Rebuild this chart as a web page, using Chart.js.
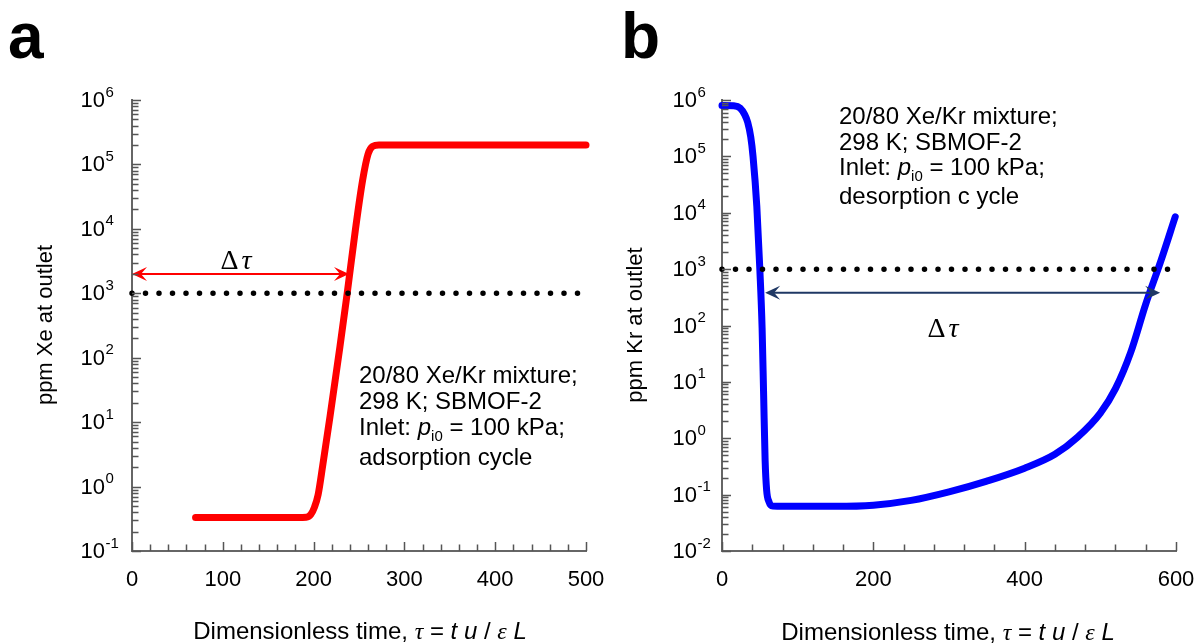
<!DOCTYPE html>
<html>
<head>
<meta charset="utf-8">
<script src="https://cdn.jsdelivr.net/npm/chart.js@4.4.1/dist/chart.umd.min.js"></script>
<style>
  body { margin: 0; background: #fff; width: 1197px; height: 643px; position: relative; overflow: hidden;
         font-family: Arial, "Liberation Sans", sans-serif; color: #000; }
  canvas { position: absolute; top: 0; }
  #chartA { left: 0; }
  #chartB { left: 600px; }
  .t { position: absolute; white-space: nowrap; line-height: 1; }
  .panel { font-weight: bold; font-size: 64px; }
  .note { font-size: 24px; }
  .note sub { font-size: 15px; vertical-align: -6px; font-style: normal; }
  .xt { font-size: 24px; width: 500px; text-align: center; }
  .yt { font-size: 22px; width: 300px; text-align: center; transform: rotate(-90deg); }
  .sym { font-family: "Liberation Serif", "Times New Roman", serif; font-style: italic; }
  .dt { font-family: "Liberation Serif", "Times New Roman", serif; font-size: 28px; width: 100px; text-align: center; }
  .dt i { margin-left: 3px; }
</style>
</head>
<body>
<canvas id="chartA" width="620" height="643"></canvas>
<canvas id="chartB" width="597" height="643"></canvas>

<div class="t panel" style="left:8px; top:4px;">a</div>
<div class="t panel" style="left:621px; top:4px;">b</div>

<div class="t yt" style="left:-105px; top:314px;">ppm Xe at outlet</div>
<div class="t yt" style="left:485px; top:314px;">ppm Kr at outlet</div>

<div class="t xt" style="left:110px; top:619px;">Dimensionless time, <span class="sym">τ</span> = <i>t u</i> / <span class="sym">ε</span> <i>L</i></div>
<div class="t xt" style="left:698px; top:620px;">Dimensionless time, <span class="sym">τ</span> = <i>t u</i> / <span class="sym">ε</span> <i>L</i></div>

<div class="t note" style="left:359px; top:363px;">20/80 Xe/Kr mixture;</div>
<div class="t note" style="left:359px; top:389px;">298 K; SBMOF-2</div>
<div class="t note" style="left:359px; top:415px;">Inlet: <i>p</i><sub>i0</sub> = 100 kPa;</div>
<div class="t note" style="left:359px; top:445px;">adsorption cycle</div>

<div class="t note" style="left:839px; top:104px;">20/80 Xe/Kr mixture;</div>
<div class="t note" style="left:839px; top:130px;">298 K; SBMOF-2</div>
<div class="t note" style="left:839px; top:155px;">Inlet: <i>p</i><sub>i0</sub> = 100 kPa;</div>
<div class="t note" style="left:839px; top:184px;">desorption c ycle</div>

<div class="t dt" style="left:186px; top:246px;">Δ<i>τ</i></div>
<div class="t dt" style="left:893px; top:314px;">Δ<i>τ</i></div>

<script>
// ---- data ----
// panel a: Xe at outlet, adsorption
const redTau = [70, 120, 170, 192, 197, 201, 205, 210, 218, 229, 237, 246, 254, 260, 265, 272, 300, 400, 500];
const redPpm = [0.33, 0.33, 0.33, 0.335, 0.37, 0.48, 0.75, 2.1, 12, 148, 1000, 9600, 5.7e4, 1.45e5, 1.9e5, 2.0e5, 2.0e5, 2.0e5, 2.0e5];
// panel b: Kr at outlet, desorption
const blueTau = [0, 15, 24, 30, 34, 38, 41, 46, 50, 53, 55, 57, 59, 62, 67, 100, 150, 200, 250, 300, 350, 400, 440, 470, 500, 520, 540, 560, 580, 599];
const bluePpm = [8e5, 7.9e5, 7.2e5, 5.5e5, 4e5, 2.2e5, 1e5, 1.3e4, 1000, 90, 6, 0.4, 0.12, 0.075, 0.063, 0.062, 0.062, 0.065, 0.079, 0.112, 0.174, 0.295, 0.52, 1.05, 2.8, 7.6, 33, 240, 1400, 8500];

// threshold line (1000 ppm)
const threshold = 1000;
const threshTauA = [0, 500];
const threshTauB = [0, 600];

// delta tau arrows: [start, end] in tau, and level in ppm
const deltaTauA = [0, 239];
const deltaLevelA = 2000;
const deltaTauB = [57, 579];
const deltaLevelB = 380;

// axes
const xTicksA = [0, 100, 200, 300, 400, 500];
const xTicksB = [0, 200, 400, 600];
const yExpA = [-1, 0, 1, 2, 3, 4, 5, 6];
const yExpB = [-2, -1, 0, 1, 2, 3, 4, 5, 6];

const pts = (xs, ys) => xs.map((x, i) => ({ x: x, y: ys[i] }));

// ---- axis decoration: inward ticks + 10^n labels ----
const decor = {
  id: 'decor',
  afterDraw(chart, args, o) {
    const { ctx, chartArea: a } = chart;
    const x = chart.scales.x, y = chart.scales.y;
    ctx.save();
    ctx.strokeStyle = '#555';
    ctx.lineWidth = 1.5;
    ctx.beginPath();
    // y ticks, major at decades
    for (let e = o.yExp[0]; e <= o.yExp[o.yExp.length - 1]; e++) {
      for (let k = 1; k <= 9; k++) {
        const v = k * Math.pow(10, e);
        if (v > y.max * 1.0001) break;
        const py = Math.round(y.getPixelForValue(v)) + 0.5;
        ctx.moveTo(a.left, py);
        ctx.lineTo(a.left + (k === 1 ? 9 : 6.5), py);
      }
    }
    // x ticks
    for (let v = x.min; v <= x.max + 0.001; v += o.xMinor) {
      const px = Math.round(x.getPixelForValue(v)) + 0.5;
      const major = Math.abs(v % o.xMajor) < 0.001;
      ctx.moveTo(px, a.bottom);
      ctx.lineTo(px, a.bottom - (major ? 9 : 6.5));
    }
    ctx.stroke();

    // labels
    ctx.fillStyle = '#000';
    ctx.textBaseline = 'alphabetic';
    o.yExp.forEach(e => {
      const py = y.getPixelForValue(Math.pow(10, e));
      const bx = a.left - o.labelGap;
      ctx.font = '22px Arial, "Liberation Sans", sans-serif';
      ctx.textAlign = 'right';
      ctx.fillText('10', bx, py + 7);
      ctx.font = '15px Arial, "Liberation Sans", sans-serif';
      ctx.textAlign = 'left';
      ctx.fillText(String(e), bx + 0.5, py - 3.5);
    });
    ctx.font = '22px Arial, "Liberation Sans", sans-serif';
    ctx.textAlign = 'center';
    o.xTicks.forEach(v => {
      ctx.fillText(String(v), x.getPixelForValue(v), a.bottom + 35);
    });
    ctx.restore();
  },
  afterDatasetsDraw(chart, args, o) {
    const { ctx } = chart;
    const x = chart.scales.x, y = chart.scales.y;
    const x0 = x.getPixelForValue(o.arrow[0]);
    const x1 = x.getPixelForValue(o.arrow[1]);
    const py = y.getPixelForValue(o.level);
    ctx.save();
    ctx.strokeStyle = o.color;
    ctx.fillStyle = o.color;
    ctx.lineWidth = o.width;
    ctx.beginPath();
    ctx.moveTo(x0 + 6, py);
    ctx.lineTo(x1 - 6, py);
    ctx.stroke();
    const head = (tx, d) => {
      ctx.beginPath();
      ctx.moveTo(tx, py);
      ctx.lineTo(tx - d * 15, py - 7);
      ctx.lineTo(tx - d * 9, py);
      ctx.lineTo(tx - d * 15, py + 7);
      ctx.closePath();
      ctx.fill();
    };
    head(x0, -1);
    head(x1, 1);
    ctx.restore();
  }
};

function makeChart(id, cfg) {
  return new Chart(document.getElementById(id), {
    type: 'line',
    data: {
      datasets: [
        {
          data: pts(cfg.threshTau, [threshold, threshold]),
          borderColor: '#000', borderWidth: 5.5, borderDash: [0, 13.5],
          borderCapStyle: 'round', pointRadius: 0, clip: false
        },
        {
          data: pts(cfg.tau, cfg.ppm),
          borderColor: cfg.color, borderWidth: 7, pointRadius: 0,
          borderCapStyle: 'round', borderJoinStyle: 'round',
          cubicInterpolationMode: 'monotone', clip: false
        }
      ]
    },
    options: {
      responsive: false,
      animation: false,
      devicePixelRatio: 1,
      layout: { padding: cfg.padding },
      plugins: {
        legend: { display: false },
        tooltip: { enabled: false },
        decor: {
          yExp: cfg.yExp, xTicks: cfg.xTicks, xMinor: cfg.xMinor, xMajor: cfg.xMajor,
          labelGap: cfg.labelGap, arrow: cfg.arrow, level: cfg.level,
          color: cfg.arrowColor, width: cfg.arrowWidth
        }
      },
      scales: {
        x: {
          type: 'linear', min: 0, max: cfg.xMax,
          grid: { display: true, drawOnChartArea: false, drawTicks: false },
          border: { display: true, color: '#666', width: 2 },
          ticks: { display: false }
        },
        y: {
          type: 'logarithmic', min: Math.pow(10, cfg.yExp[0]), max: 1e6,
          grid: { display: true, drawOnChartArea: false, drawTicks: false },
          border: { display: true, color: '#666', width: 2 },
          ticks: { display: false }
        }
      }
    },
    plugins: [decor]
  });
}

makeChart('chartA', {
  tau: redTau, ppm: redPpm, color: '#ff0000', threshTau: threshTauA,
  xMax: 500, xTicks: xTicksA, xMinor: 20, xMajor: 100, yExp: yExpA,
  padding: { left: 132, right: 34, top: 100, bottom: 92 }, labelGap: 27,
  arrow: deltaTauA, level: deltaLevelA, arrowColor: '#ff0000', arrowWidth: 2
});

makeChart('chartB', {
  tau: blueTau, ppm: bluePpm, color: '#0000ff', threshTau: threshTauB,
  xMax: 600, xTicks: xTicksB, xMinor: 40, xMajor: 200, yExp: yExpB,
  padding: { left: 122, right: 21, top: 100, bottom: 92 }, labelGap: 25,
  arrow: deltaTauB, level: deltaLevelB, arrowColor: '#1f3864', arrowWidth: 2
});
</script>
</body>
</html>
